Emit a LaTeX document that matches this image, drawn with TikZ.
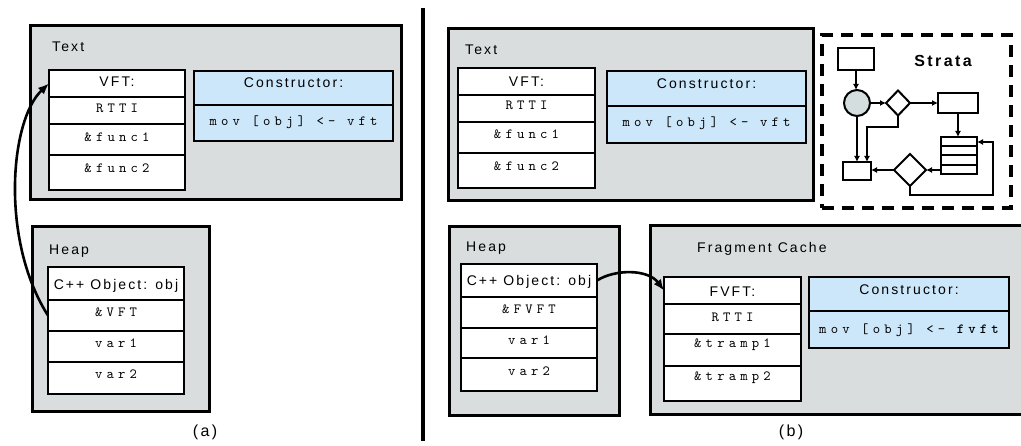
\documentclass[tikz,border=0pt]{standalone}
\usepackage{fontspec}
\usetikzlibrary{shapes.geometric,arrows.meta}
\newfontfamily\sfsp[LetterSpace=15]{Liberation Sans}
\newfontfamily\ttsp[LetterSpace=30]{lmmono10-regular.otf}
\newfontfamily\ttbf[LetterSpace=30]{lmmonolt10-bold.otf}
\definecolor{contgray}{RGB}{218,221,222}
\definecolor{ctorblue}{RGB}{204,230,250}
\definecolor{circgray}{RGB}{212,222,222}
\tikzset{
  cont/.style={draw=black, line width=3pt, fill=contgray, inner sep=0pt, outer sep=0pt, anchor=north west},
  cell/.style={draw=black, line width=1.6pt, fill=white, inner sep=0pt, outer sep=0pt, anchor=north west},
  bcell/.style={cell, fill=ctorblue},
  lbl/.style={font={\sfsp\fontsize{14pt}{16pt}\selectfont}, anchor=base west, inner sep=0pt},
  sft/.style={font={\sfsp\fontsize{14pt}{16pt}\selectfont}, anchor=base, inner sep=0pt},
  mft/.style={font={\ttsp\fontsize{14pt}{16pt}\selectfont}, anchor=base, inner sep=0pt},
  captxt/.style={font={\sfsp\fontsize{16pt}{18pt}\selectfont}, anchor=base, inner sep=0pt},
  arr/.style={line width=2.6pt, -{Latex[length=11pt,width=9pt]}},
  fbox/.style={draw=black, line width=2pt, fill=white, inner sep=0pt, outer sep=0pt, anchor=north west},
  fdia/.style={draw=black, line width=2pt, fill=white, diamond, inner sep=0pt, outer sep=0pt},
  farr/.style={line width=2pt, -{Latex[length=6pt,width=6pt]}},
}
\begin{document}
\begin{tikzpicture}[x=1pt,y=-1pt]
\useasboundingbox (0,0) rectangle (1021,446);

% ---------------- (a) ----------------
\node[cont, minimum width=371, minimum height=174] (textA) at (30,26) {};
\node[lbl] (textAl) at (52,51.5) {Text};
\node[cell, minimum width=136, minimum height=27] (vftA1) at (49,70) {};
\node[cell, minimum width=136, minimum height=27] (vftA2) at (49,97) {};
\node[cell, minimum width=136, minimum height=31] (vftA3) at (49,124) {};
\node[cell, minimum width=136, minimum height=35] (vftA4) at (49,155) {};
\node[sft] (vftA1t) at (117,87) {VFT:};
\node[mft] (vftA2t) at (117,113) {RTTI};
\node[mft] (vftA3t) at (117,141.5) {\&func1};
\node[mft] (vftA4t) at (117,173) {\&func2};
\node[bcell, minimum width=199, minimum height=34] (conA1) at (194,71) {};
\node[bcell, minimum width=199, minimum height=36] (conA2) at (194,105) {};
\node[sft] (conA1t) at (293.5,88) {Constructor:};
\node[mft] (conA2t) at (293.5,126) {mov [obj] <- vft};

\node[cont, minimum width=177, minimum height=185] (heapA) at (32,227) {};
\node[lbl] (heapAl) at (49,255) {Heap};
\node[cell, minimum width=136, minimum height=33] (objA1) at (48,267) {};
\node[cell, minimum width=136, minimum height=31] (objA2) at (48,300) {};
\node[cell, minimum width=136, minimum height=31] (objA3) at (48,331) {};
\node[cell, minimum width=136, minimum height=32] (objA4) at (48,362) {};
\node[sft] (objA1t) at (116,289.5) {C++ Object: obj};
\node[mft] (objA2t) at (116,317) {\&VFT};
\node[mft] (objA3t) at (116,348) {var1};
\node[mft] (objA4t) at (116,379) {var2};
\node[captxt] (capA) at (205,437) {(a)};

\draw[arr] (objA2.west) .. controls (0,240) and (10,120) .. (vftA1.west);

% divider
\draw[line width=4pt] (422.5,8) -- (422.5,441);

% ---------------- (b) ----------------
\node[cont, minimum width=365, minimum height=172] (textB) at (448,29) {};
\node[lbl] (textBl) at (465,55) {Text};
\node[cell, minimum width=137, minimum height=27] (vftB1) at (458,68) {};
\node[cell, minimum width=137, minimum height=27] (vftB2) at (458,95) {};
\node[cell, minimum width=137, minimum height=31] (vftB3) at (458,122) {};
\node[cell, minimum width=137, minimum height=35] (vftB4) at (458,153) {};
\node[sft] (vftB1t) at (526.5,87) {VFT:};
\node[mft] (vftB2t) at (526.5,110) {RTTI};
\node[mft] (vftB3t) at (526.5,139) {\&func1};
\node[mft] (vftB4t) at (526.5,171) {\&func2};
\node[bcell, minimum width=199, minimum height=35] (conB1) at (607,71) {};
\node[bcell, minimum width=199, minimum height=37] (conB2) at (607,106) {};
\node[sft] (conB1t) at (706.5,89) {Constructor:};
\node[mft] (conB2t) at (706.5,127) {mov [obj] <- vft};

% Strata
\node[draw=black, line width=4pt, dash pattern=on 12pt off 8pt, inner sep=0pt, outer sep=0pt,
      anchor=north west, minimum width=189, minimum height=173] (strata) at (822,35) {};
\node[font={\sfsp\bfseries\fontsize{16pt}{18pt}\selectfont}, anchor=base, inner sep=0pt] (stratal) at (943,67) {Strata};
\node[fbox, minimum width=36, minimum height=22] (fr1) at (838,48) {};
\node[draw=black, line width=2pt, fill=circgray, circle, minimum size=26, inner sep=0pt, outer sep=0pt] (fc) at (857,103) {};
\node[fdia, minimum width=24, minimum height=25] (fd1) at (898,103) {};
\node[fbox, minimum width=40, minimum height=20] (fr2) at (938,93) {};
\node[fbox, minimum width=36, minimum height=37] (fs) at (941,137) {};
\draw[line width=2pt] (941,146.25) -- (977,146.25) (941,155.5) -- (977,155.5) (941,164.75) -- (977,164.75);
\node[fdia, minimum width=32, minimum height=32] (fd2) at (910,170) {};
\node[fbox, minimum width=28, minimum height=18] (fr3) at (843,162) {};
\coordinate (bend1) at (867,127);
\coordinate (fsin) at (977,142);
\coordinate (loopc) at (993,195);
\draw[farr] (fr1.south) -- (fr1.south |- fc.north);
\draw[farr] (fc.east) -- (fd1.west);
\draw[farr] (fd1.east) -- (fr2.west);
\draw[farr] (fr2.south) -- (fr2.south |- fs.north);
\draw[farr] (fs.west |- fd2.east) -- (fd2.east);
\draw[farr] (fd2.west) -- (fd2.west -| fr3.east);
\draw[farr] (fc.south) -- (fc.south |- fr3.north);
\draw[farr] (fd1.south) |- (bend1) -- (bend1 |- fr3.north);
\draw[farr] (fd2.south) |- (loopc) |- (fsin);

% Heap (b)
\node[cont, minimum width=170, minimum height=189] (heapB) at (449,227) {};
\node[lbl] (heapBl) at (466,252) {Heap};
\node[cell, minimum width=136, minimum height=33] (objB1) at (461,264) {};
\node[cell, minimum width=136, minimum height=31] (objB2) at (461,297) {};
\node[cell, minimum width=136, minimum height=30] (objB3) at (461,328) {};
\node[cell, minimum width=136, minimum height=33] (objB4) at (461,358) {};
\node[sft] (objB1t) at (529,286) {C++ Object: obj};
\node[mft] (objB2t) at (529,314) {\&FVFT};
\node[mft] (objB3t) at (529,345) {var1};
\node[mft] (objB4t) at (529,376) {var2};

% Fragment cache
\node[cont, minimum width=380, minimum height=189] (fragB) at (650,226) {};
\node[lbl] (fragBl) at (697,253) {Fragment Cache};
\node[cell, minimum width=137, minimum height=27] (fvft1) at (664,277) {};
\node[cell, minimum width=137, minimum height=30] (fvft2) at (664,304) {};
\node[cell, minimum width=137, minimum height=32] (fvft3) at (664,334) {};
\node[cell, minimum width=137, minimum height=35] (fvft4) at (664,366) {};
\node[sft] (fvft1t) at (732.5,297) {FVFT:};
\node[mft] (fvft2t) at (732.5,322) {RTTI};
\node[mft] (fvft3t) at (732.5,348) {\&tramp1};
\node[mft] (fvft4t) at (732.5,381) {\&tramp2};
\node[bcell, minimum width=200, minimum height=34] (conC1) at (809,277) {};
\node[bcell, minimum width=200, minimum height=37] (conC2) at (809,311) {};
\node[sft] (conC1t) at (909,295) {Constructor:};
\node[mft] (conC2t) at (909,334) {mov [obj] <- {\ttbf fvft}};
\node[captxt] (capB) at (791,437) {(b)};

\draw[arr] (objB1.east) .. controls (615,269) and (648,269) .. (fvft1.west);
\end{tikzpicture}
\end{document}
